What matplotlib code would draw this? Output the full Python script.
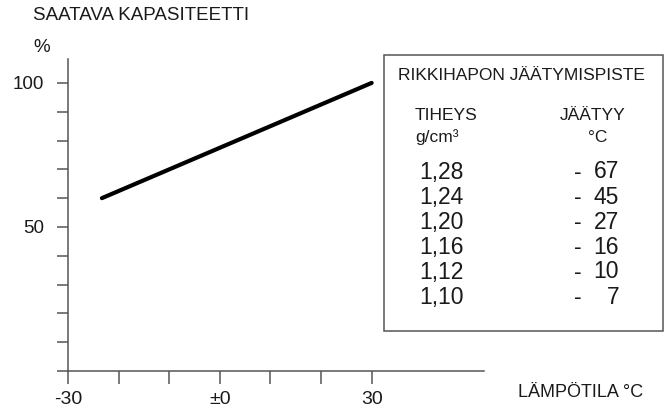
import matplotlib

matplotlib.use("Agg")
import matplotlib.pyplot as plt
from matplotlib.patches import Rectangle

plt.rcParams["font.family"] = ["Liberation Sans", "DejaVu Sans"]

# capacity line: temperature (°C) vs available capacity (%)
line_temp = [-23.3, 30]
line_capacity = [60, 100]

x_ticks = [-30, -20, -10, 0, 10, 20, 30]
x_tick_labels = ["-30", "", "", "±0", "", "", "30"]
y_ticks = [0, 10, 20, 30, 40, 50, 60, 70, 80, 90, 100]
y_tick_labels = ["", "", "", "", "", "50", "", "", "", "", "100"]

# freezing point table of sulphuric acid
densities = ["1,28", "1,24", "1,20", "1,16", "1,12", "1,10"]
freezing_points = [-67, -45, -27, -16, -10, -7]

W, H = 664, 411
AXIS_COLOR = "#555555"
TEXT_COLOR = "#1a1a1a"


def px(x, y):
    return x / W, 1 - y / H


fig = plt.figure(figsize=(W / 100, H / 100), dpi=100)
left, top = px(68, 59)
right, bottom = px(484, 371)
ax = fig.add_axes([left, bottom, right - left, top - bottom])

ax.plot(line_temp, line_capacity, color="black", linewidth=3.0, solid_capstyle="round")

ax.set_xlim(-30, 52.2)
ax.set_ylim(0, 108.3)
ax.set_xticks(x_ticks)
ax.set_xticklabels(x_tick_labels, fontsize=14, color=TEXT_COLOR)
ax.set_yticks(y_ticks)
ax.set_yticklabels(y_tick_labels, fontsize=13.5, color=TEXT_COLOR)
ax.tick_params(axis="x", direction="out", length=9.5, width=1.1, color=AXIS_COLOR, pad=5)
ax.tick_params(axis="y", direction="out", length=8, width=1.1, color=AXIS_COLOR, pad=9)
for side in ("top", "right"):
    ax.spines[side].set_visible(False)
for side in ("left", "bottom"):
    ax.spines[side].set_color(AXIS_COLOR)
    ax.spines[side].set_linewidth(1.1)

fig.text(*px(33, 16), "SAATAVA KAPASITEETTI", fontsize=13.5, color=TEXT_COLOR, va="center", ha="left")
fig.text(*px(33, 47), "%", fontsize=13.5, color=TEXT_COLOR, va="center", ha="left")
fig.text(*px(518, 392), "LÄMPÖTILA °C", fontsize=13, color=TEXT_COLOR, va="center", ha="left")

# table box
bx0, by0 = px(383.5, 331)
bx1, by1 = px(663, 55)
fig.patches.append(
    Rectangle((bx0, by0), bx1 - bx0, by1 - by0, transform=fig.transFigure,
              facecolor="white", edgecolor=AXIS_COLOR, linewidth=1.1)
)
fig.text(*px(398, 76), "RIKKIHAPON JÄÄTYMISPISTE", fontsize=12.5, color=TEXT_COLOR, va="center", ha="left")
fig.text(*px(415, 116), "TIHEYS", fontsize=12.5, color=TEXT_COLOR, va="center", ha="left")
fig.text(*px(415, 137), "g/cm³", fontsize=12.5, color=TEXT_COLOR, va="center", ha="left")
fig.text(*px(560, 116), "JÄÄTYY", fontsize=12.5, color=TEXT_COLOR, va="center", ha="left")
fig.text(*px(598, 137), "°C", fontsize=12.5, color=TEXT_COLOR, va="center", ha="center")

for i, (dens, fp) in enumerate(zip(densities, freezing_points)):
    y = 172 + i * 25
    fig.text(*px(419, y), dens, fontsize=16.5, color=TEXT_COLOR, va="center", ha="left")
    fig.text(*px(574, y), "-", fontsize=16.5, color=TEXT_COLOR, va="center", ha="left")
    fig.text(*px(619, y), str(abs(fp)), fontsize=16.5, color=TEXT_COLOR, va="center", ha="right")

fig.savefig("out.png", dpi=100)
